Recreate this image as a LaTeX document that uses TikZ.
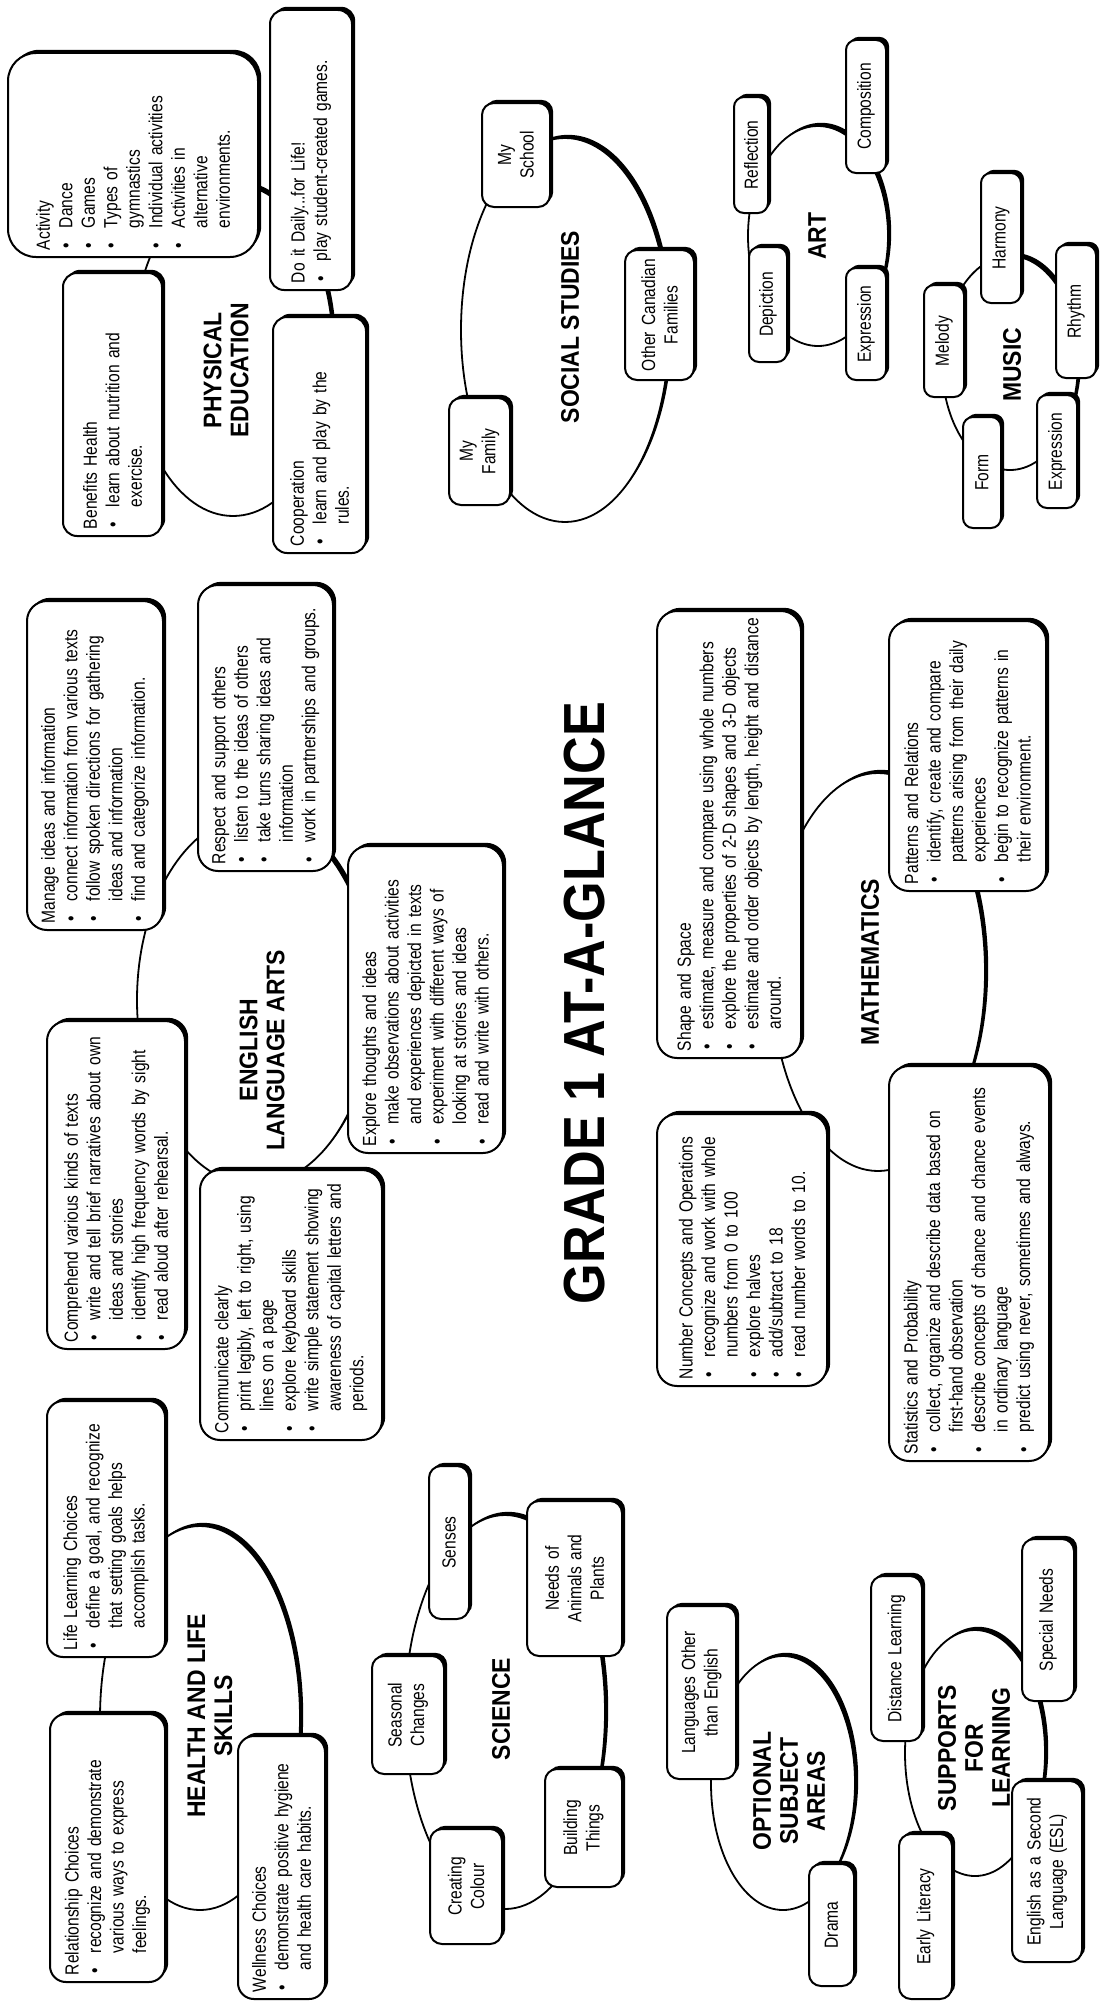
\documentclass[tikz,border=0pt]{standalone}
\usepackage{fontspec}
\setmainfont{Liberation Sans}[FakeStretch=0.82]
\newfontfamily\ttlfont{Liberation Sans}[FakeStretch=0.9]
\newcommand\bodyfont{\fontsize{19pt}{22.5pt}\selectfont}
\newcommand\bul{\makebox[22pt][l]{\hspace{2pt}\textbullet}}
\newcommand\cnt{\hspace*{22pt}}
\def\bxr{12pt}
\tikzset{
  bx/.style={draw, line width=2pt, fill=white, rotate=90, inner xsep=7pt, inner ysep=0pt, font=\bodyfont, align=left},
  ttl/.style={rotate=90, align=center, inner sep=0pt, font=\ttlfont\bfseries\fontsize{25.5pt}{27pt}\selectfont},
  bigttl/.style={rotate=90, align=center, inner sep=0pt, font=\ttlfont\bfseries\fontsize{58pt}{58pt}\selectfont},
}
\newcommand\mybox[7][]{%
  \pgfmathsetlengthmacro\bxw{(#6-#4)*1pt}%
  \pgfmathsetlengthmacro\bxh{(#5-#3)*1pt}%
  \pgfmathsetlengthmacro\bxt{(#6-#4)*1pt-14pt}%
  \fill[rounded corners=\bxr] (#3+3.2,#4-3.2) rectangle (#5+3.2,#6-3.2);
  \node[bx, rounded corners=\bxr, minimum width=\bxw, minimum height=\bxh, text width=\bxt, #1] (#2) at ({(#3+#5)/2},{(#4+#6)/2}) {#7};
}
\newcommand\ellip[5]{%
  \fill (#2+3.2,#3-3.2) ellipse [x radius=#4pt, y radius=#5pt];
  \draw[line width=1.8pt, fill=white] (#2,#3) ellipse [x radius=#4pt, y radius=#5pt];
  \coordinate (#1) at (#2,#3);
}
\begin{document}
\begin{tikzpicture}[x=1pt,y=-1pt]
\fill[white] (0,0) rectangle (1101,2010);
\useasboundingbox (0,0) rectangle (1101,2010);
% ---------- ellipses (connectors) ----------
\ellip{peE}{233}{350}{100}{166}
\ellip{ssE}{565}{330}{104}{192}
\ellip{artE}{818}{236}{70}{110}
\ellip{musE}{1010}{363}{68}{107}
\ellip{elaE}{255}{1000}{118}{185}
\ellip{mathE}{878}{972}{107}{199}
\ellip{hlsE}{200}{1718}{100}{192}
\ellip{sciE}{505}{1712}{100}{197}
\ellip{osaE}{783}{1783}{72}{127}
\ellip{sflE}{975}{1753}{70}{123}
% ---------- Physical Education ----------
\def\bxr{28pt}
\mybox{activity}{8}{53}{258}{257}{Activity\\ \bul Dance\\ \bul Games\\ \bul Types of\\ \cnt gymnastics\\ \bul Individual activities\\ \bul Activities in\\ \cnt alternative\\ \cnt environments.}
\def\bxr{14pt}
\mybox{daily}{270}{10}{352}{290}{Do it Daily...for Life!\\ \bul play student-created games.}
\mybox{benefits}{63}{273}{162}{536}{Benefits Health\\ \bul learn about nutrition and\\ \cnt exercise.}
\mybox{coop}{273}{317}{366}{553}{Cooperation\\ \bul learn and play by the\\ \cnt rules.}
% ---------- Social Studies ----------
\def\bxr{12pt}
\mybox[align=center]{myschool}{482}{103}{550}{207}{My\\School}
\mybox[align=center]{othercan}{625}{250}{694}{380}{Other Canadian\\Families}
\mybox[align=center]{myfamily}{449}{398}{510}{505}{My\\Family}
% ---------- Art ----------
\def\bxr{10pt}
\mybox[align=center]{reflection}{734}{97}{768}{213}{Reflection}
\mybox[align=center]{composition}{846}{40}{886}{173}{Composition}
\mybox[align=center]{depiction}{749}{247}{787}{362}{Depiction}
\mybox[align=center]{expressionA}{846}{268}{886}{380}{Expression}
% ---------- Music ----------
\mybox[align=center]{harmony}{981}{173}{1021}{303}{Harmony}
\mybox[align=center]{melody}{924}{285}{964}{397}{Melody}
\mybox[align=center]{rhythm}{1056}{245}{1096}{378}{Rhythm}
\mybox[align=center]{form}{963}{417}{1001}{528}{Form}
\mybox[align=center]{expressionB}{1037}{395}{1077}{508}{Expression}
% ---------- English Language Arts ----------
\def\bxr{20pt}
\mybox{manage}{27}{601}{163}{930}{Manage ideas and information\\ \bul connect information from various texts\\ \bul follow spoken directions for gathering\\ \cnt ideas and information\\ \bul find and categorize information.}
\mybox{respect}{198}{585}{333}{871}{Respect and support others\\ \bul listen to the ideas of others\\ \bul take turns sharing ideas and\\ \cnt information\\ \bul work in partnerships and groups.}
\mybox{explore}{348}{846}{503}{1153}{Explore thoughts and ideas\\ \bul make observations about activities\\ \cnt and experiences depicted in texts\\ \bul experiment with different ways of\\ \cnt looking at stories and ideas\\ \bul read and write with others.}
\mybox{comprehend}{47}{1021}{185}{1349}{Comprehend various kinds of texts\\ \bul write and tell brief narratives about own\\ \cnt ideas and stories\\ \bul identify high frequency words by sight\\ \bul read aloud after rehearsal.}
\mybox{communicate}{200}{1170}{382}{1440}{Communicate clearly\\ \bul print legibly, left to right, using\\ \cnt lines on a page\\ \bul explore keyboard skills\\ \bul write simple statement showing\\ \cnt awareness of capital letters and\\ \cnt periods.}
% ---------- Mathematics ----------
\mybox{shape}{657}{611}{801}{1058}{Shape and Space\\ \bul estimate, measure and compare using whole numbers\\ \bul explore the properties of 2-D shapes and 3-D objects\\ \bul estimate and order objects by length, height and distance\\ \cnt around.}
\mybox{patterns}{889}{621}{1046}{891}{Patterns and Relations\\ \bul identify, create and compare\\ \cnt patterns arising from their daily\\ \cnt experiences\\ \bul begin to recognize patterns in\\ \cnt their environment.}
\mybox{number}{657}{1114}{827}{1386}{Number Concepts and Operations\\ \bul recognize and work with whole\\ \cnt numbers from 0 to 100\\ \bul explore halves\\ \bul add/subtract to 18\\ \bul read number words to 10.}
\mybox{stats}{889}{1066}{1049}{1461}{Statistics and Probability\\ \bul collect, organize and describe data based on\\ \cnt first-hand observation\\ \bul describe concepts of chance and chance events\\ \cnt in ordinary language\\ \bul predict using never, sometimes and always.}
% ---------- Health and Life Skills ----------
\def\bxr{16pt}
\mybox{lifelearn}{47}{1401}{165}{1657}{Life Learning Choices\\ \bul define a goal, and recognize\\ \cnt that setting goals helps\\ \cnt accomplish tasks.}
\mybox{relation}{50}{1714}{165}{1982}{Relationship Choices\\ \bul recognize and demonstrate\\ \cnt various ways to express\\ \cnt feelings.}
\mybox{wellness}{238}{1736}{325}{1999}{Wellness Choices\\ \bul demonstrate positive hygiene\\ \cnt and health care habits.}
% ---------- Science ----------
\def\bxr{12pt}
\mybox[align=center]{senses}{429}{1466}{469}{1619}{Senses}
\mybox[align=center]{needs}{527}{1501}{622}{1656}{Needs of\\Animals and\\Plants}
\mybox[align=center]{seasonal}{372}{1656}{444}{1774}{Seasonal\\Changes}
\mybox[align=center]{creating}{430}{1829}{502}{1944}{Creating\\Colour}
\mybox[align=center]{building}{545}{1769}{622}{1887}{Building\\Things}
% ---------- Optional Subject Areas ----------
\mybox[align=center]{langs}{667}{1606}{736}{1779}{Languages Other\\than English}
\mybox[align=center]{drama}{809}{1864}{854}{1986}{Drama}
% ---------- Supports for Learning ----------
\mybox[align=center]{distance}{871}{1576}{922}{1741}{Distance Learning}
\mybox[align=center]{special}{1022}{1539}{1074}{1701}{Special Needs}
\mybox[align=center]{early}{899}{1834}{952}{1999}{Early Literacy}
\mybox[align=center]{esl}{1012}{1781}{1082}{1962}{English as a Second\\Language (ESL)}
% ---------- Titles ----------
\node[ttl] (peT) at (226,370) {PHYSICAL\\EDUCATION};
\node[ttl] (ssT) at (570,327) {SOCIAL STUDIES};
\node[ttl] (artT) at (817,236) {ART};
\node[ttl] (musT) at (1012,365) {MUSIC};
\node[ttl] (elaT) at (262,1050) {ENGLISH\\LANGUAGE ARTS};
\node[ttl] (mathT) at (870,962) {MATHEMATICS};
\node[ttl] (hlsT) at (210,1716) {HEALTH AND LIFE\\SKILLS};
\node[ttl] (sciT) at (501,1709) {SCIENCE};
\node[ttl] (osaT) at (789,1791) {OPTIONAL\\SUBJECT\\AREAS};
\node[ttl] (sflT) at (974,1748) {SUPPORTS\\FOR\\LEARNING};
\node[bigttl] (mainT) at (585,1003) {GRADE 1 AT-A-GLANCE};
\end{tikzpicture}
\end{document}
